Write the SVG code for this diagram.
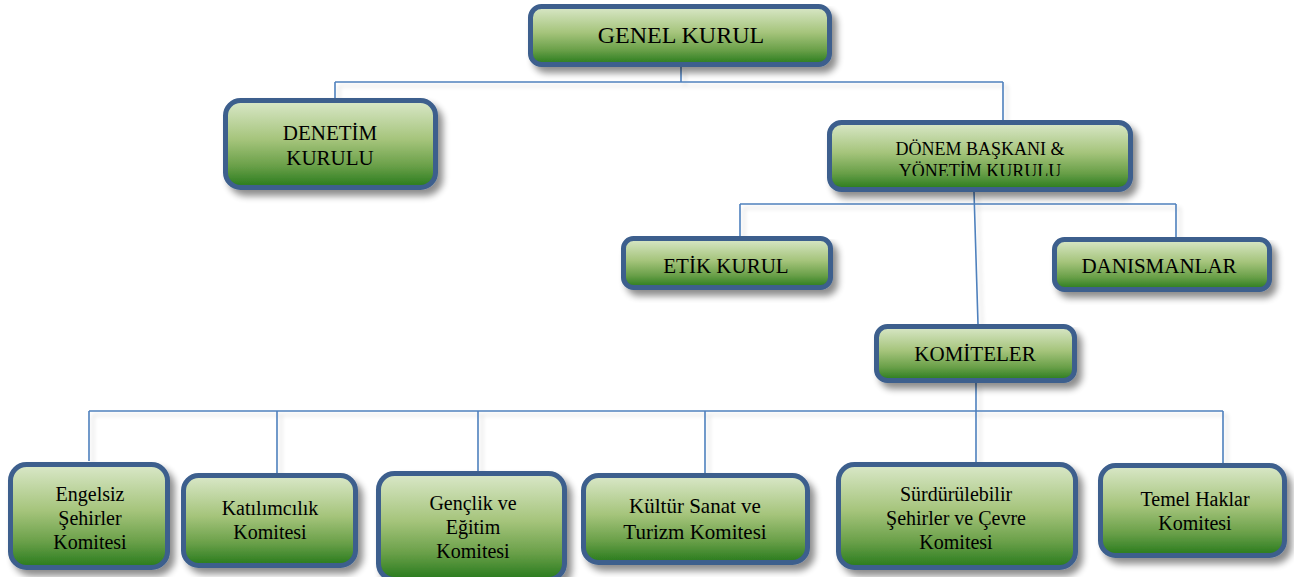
<svg xmlns="http://www.w3.org/2000/svg" width="1294" height="577" viewBox="0 0 1294 577">
<defs>
<linearGradient id="g" x1="0" y1="0" x2="0" y2="1">
<stop offset="0" stop-color="#dae8c9"/>
<stop offset="0.45" stop-color="#a5c47b"/>
<stop offset="0.75" stop-color="#6aa049"/>
<stop offset="1" stop-color="#277a1c"/>
</linearGradient>
<filter id="sh" x="-10%" y="-10%" width="130%" height="140%">
<feGaussianBlur in="SourceAlpha" stdDeviation="3.5"/>
<feOffset dx="5" dy="6"/>
<feComponentTransfer><feFuncA type="linear" slope="0.45"/></feComponentTransfer>
<feMerge><feMergeNode/><feMergeNode in="SourceGraphic"/></feMerge>
</filter>
<filter id="lsh" x="-5%" y="-5%" width="110%" height="110%">
<feGaussianBlur in="SourceAlpha" stdDeviation="2"/>
<feOffset dx="4" dy="4"/>
<feComponentTransfer><feFuncA type="linear" slope="0.15"/></feComponentTransfer>
<feMerge><feMergeNode/><feMergeNode in="SourceGraphic"/></feMerge>
</filter>
<clipPath id="dclip"><rect x="820" y="110" width="320" height="66"/></clipPath>
</defs>
<style>
.box{fill:url(#g);stroke:#3c5f8d;stroke-width:5;filter:url(#sh)}
.t{fill:#000;text-anchor:middle;font-family:"Liberation Serif","Times New Roman",serif}
.c{fill:none;stroke:#4f81bd;stroke-width:1.6}
</style>
<rect width="1294" height="577" fill="#ffffff"/>
<g id="connectors" filter="url(#lsh)">
<path class="c" d="M681 67 V82 M335 82 H1003 M335 82 V98 M1003 82 V120"/>
<path class="c" d="M974 192 L978 324 M740 204 H1176 M740 204 V237 M1176 204 V237"/>
<path class="c" d="M976 383 V462 M89 411 H1223 M89 411 V461 M277 411 V473 M478 411 V471 M705 411 V473 M1223 411 V463"/>
</g>
<g id="genel-kurul">
<rect class="box" x="530.5" y="6.5" width="299" height="58" rx="11"/>
<text class="t" x="681" y="43" font-size="24">GENEL KURUL</text>
</g>
<g id="denetim-kurulu">
<rect class="box" x="225.5" y="100.5" width="210" height="87" rx="15"/>
<text class="t" x="330" y="140" font-size="21">DENETİM</text>
<text class="t" x="330" y="165" font-size="21">KURULU</text>
</g>
<g id="donem-baskani">
<rect class="box" x="829.5" y="122.5" width="301" height="67" rx="12"/>
<text class="t" x="980" y="155" font-size="18">DÖNEM BAŞKANI &amp;</text>
<text class="t" x="980" y="177" font-size="18" clip-path="url(#dclip)">YÖNETİM KURULU</text>
</g>
<g id="etik-kurul">
<rect class="box" x="623.5" y="238.5" width="207" height="49" rx="10"/>
<text class="t" x="726" y="273" font-size="21">ETİK KURUL</text>
</g>
<g id="danismanlar">
<rect class="box" x="1054.5" y="239.5" width="215" height="50" rx="10"/>
<text class="t" x="1159" y="273" font-size="21">DANISMANLAR</text>
</g>
<g id="komiteler">
<rect class="box" x="876.5" y="326.5" width="198" height="54" rx="11"/>
<text class="t" x="975" y="361" font-size="21">KOMİTELER</text>
</g>
<g id="engelsiz">
<rect class="box" x="10.5" y="464.5" width="157" height="103" rx="16"/>
<text class="t" x="90" y="501" font-size="20">Engelsiz</text>
<text class="t" x="90" y="525" font-size="20">Şehirler</text>
<text class="t" x="90" y="549" font-size="20">Komitesi</text>
</g>
<g id="katilimcilik">
<rect class="box" x="183.5" y="475.5" width="172" height="90" rx="15"/>
<text class="t" x="270" y="515" font-size="20">Katılımcılık</text>
<text class="t" x="270" y="539" font-size="20">Komitesi</text>
</g>
<g id="genclik">
<rect class="box" x="378.5" y="473.5" width="186" height="106" rx="16"/>
<text class="t" x="473" y="510" font-size="20">Gençlik ve</text>
<text class="t" x="473" y="534" font-size="20">Eğitim</text>
<text class="t" x="473" y="558" font-size="20">Komitesi</text>
</g>
<g id="kultur">
<rect class="box" x="583.5" y="475.5" width="224" height="87" rx="15"/>
<text class="t" x="695" y="513" font-size="21">Kültür Sanat ve</text>
<text class="t" x="695" y="539" font-size="21">Turizm Komitesi</text>
</g>
<g id="surdurulebilir">
<rect class="box" x="838.5" y="464.5" width="237" height="103" rx="16"/>
<text class="t" x="956" y="501" font-size="20">Sürdürülebilir</text>
<text class="t" x="956" y="525" font-size="20">Şehirler ve Çevre</text>
<text class="t" x="956" y="549" font-size="20">Komitesi</text>
</g>
<g id="temel-haklar">
<rect class="box" x="1100.5" y="465.5" width="184" height="90" rx="15"/>
<text class="t" x="1195" y="506" font-size="20">Temel Haklar</text>
<text class="t" x="1195" y="530" font-size="20">Komitesi</text>
</g>
</svg>
